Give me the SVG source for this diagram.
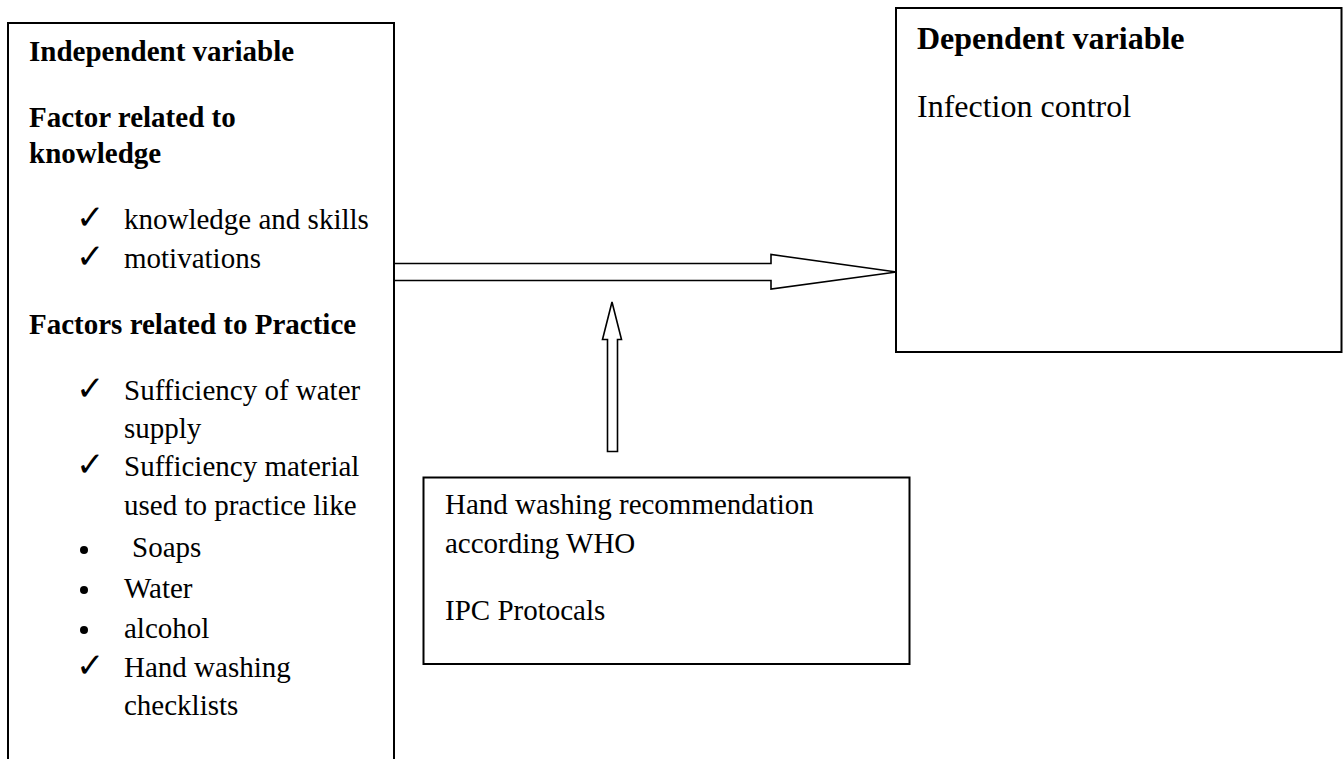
<svg xmlns="http://www.w3.org/2000/svg" width="1343" height="759" viewBox="0 0 1343 759">
<style>
.box{fill:#fff;stroke:#000;stroke-width:2}
.arr{fill:#fff;stroke:#000;stroke-width:1.6;stroke-linejoin:miter}
.t{font-family:"Liberation Serif","Times New Roman",serif;font-size:29px;fill:#000}
.b{font-weight:bold}
.big{font-size:32px}
.ck{font-family:"DejaVu Sans",sans-serif;font-size:34px;fill:#000}
</style>
<rect width="1343" height="759" fill="#fff"/>
<g id="connectors">
<path class="arr" d="M395,263.5 H771 V254.5 L896.5,272 L771,289 V280.5 H395"/>
<path class="arr" d="M607.5,451.5 V339.5 H602.5 L612,302 L621.5,339.5 H617.5 V451.5 Z"/>
</g>
<g id="independent">
<rect class="box" x="8" y="23" width="386" height="800"/>
<text class="t b" x="29" y="61">Independent variable</text>
<text class="t b" x="29" y="127">Factor related to</text>
<text class="t b" x="29" y="163">knowledge</text>
<text class="ck" x="76" y="229">✓</text>
<text class="t" x="124" y="229">knowledge and skills</text>
<text class="ck" x="76" y="268">✓</text>
<text class="t" x="124" y="268">motivations</text>
<text class="t b" x="29" y="334">Factors related to Practice</text>
<text class="ck" x="76" y="400">✓</text>
<text class="t" x="124" y="400">Sufficiency of water</text>
<text class="t" x="124" y="438">supply</text>
<text class="ck" x="76" y="476">✓</text>
<text class="t" x="124" y="476">Sufficiency material</text>
<text class="t" x="124" y="515">used to practice like</text>
<circle cx="84" cy="550" r="4"/>
<text class="t" x="132" y="557">Soaps</text>
<circle cx="84" cy="590" r="4"/>
<text class="t" x="124" y="598">Water</text>
<circle cx="84" cy="630" r="4"/>
<text class="t" x="124" y="638">alcohol</text>
<text class="ck" x="76" y="677">✓</text>
<text class="t" x="124" y="677">Hand washing</text>
<text class="t" x="124" y="715">checklists</text>
</g>
<g id="dependent">
<rect class="box" x="896" y="8" width="445.5" height="344"/>
<text class="t b big" x="917" y="49">Dependent variable</text>
<text class="t big" x="917" y="117">Infection control</text>
</g>
<g id="moderator">
<rect class="box" x="423.5" y="477.5" width="486" height="186.5"/>
<text class="t" x="445" y="514">Hand washing recommendation</text>
<text class="t" x="445" y="553">according WHO</text>
<text class="t" x="445" y="620">IPC Protocals</text>
</g>
</svg>
